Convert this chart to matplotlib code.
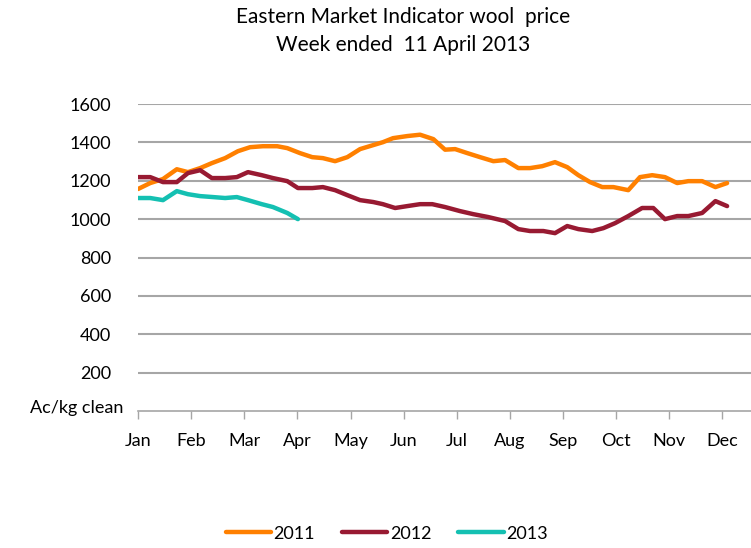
import matplotlib
import matplotlib.pyplot as plt

matplotlib.use("agg")

# x positions are in months since 1 Jan (0 = Jan, 1 = Feb, ...)
months = ["Jan", "Feb", "Mar", "Apr", "May", "Jun",
          "Jul", "Aug", "Sep", "Oct", "Nov", "Dec"]
y_ticks = [200, 400, 600, 800, 1000, 1200, 1400, 1600]

x_2011 = [0.00, 0.23, 0.47, 0.73, 0.94, 1.17, 1.39, 1.64, 1.88, 2.11, 2.35, 2.62,
          2.81, 3.05, 3.28, 3.48, 3.71, 3.94, 4.18, 4.43, 4.61, 4.80, 5.07, 5.31,
          5.56, 5.78, 5.97, 6.20, 6.44, 6.69, 6.91, 7.16, 7.38, 7.61, 7.85, 8.08,
          8.29, 8.51, 8.74, 8.95, 9.23, 9.45, 9.68, 9.92, 10.15, 10.36, 10.62,
          10.87, 11.09]
v_2011 = [1157, 1188, 1209, 1260, 1245, 1266, 1292, 1318, 1354, 1375, 1380, 1380,
          1370, 1344, 1323, 1318, 1302, 1323, 1365, 1386, 1401, 1422, 1433, 1440,
          1417, 1362, 1365, 1344, 1323, 1302, 1308, 1266, 1266, 1276, 1297, 1271,
          1229, 1193, 1167, 1167, 1151, 1219, 1229, 1219, 1188, 1198, 1198,
          1167, 1188]

x_2012 = [0.00, 0.23, 0.47, 0.73, 0.94, 1.17, 1.39, 1.64, 1.86, 2.07, 2.33, 2.54,
          2.81, 3.01, 3.28, 3.48, 3.71, 3.94, 4.18, 4.43, 4.61, 4.84, 5.07, 5.31,
          5.54, 5.78, 6.06, 6.31, 6.59, 6.91, 7.16, 7.38, 7.63, 7.85, 8.08, 8.29,
          8.55, 8.76, 8.98, 9.23, 9.49, 9.70, 9.92, 10.15, 10.36, 10.62, 10.87,
          11.09]
v_2012 = [1219, 1219, 1193, 1193, 1240, 1255, 1214, 1214, 1219, 1245, 1229, 1214,
          1198, 1162, 1162, 1167, 1151, 1125, 1099, 1089, 1078, 1058, 1068, 1078,
          1078, 1063, 1042, 1026, 1011, 990, 948, 938, 938, 927, 964, 948,
          938, 953, 979, 1016, 1058, 1058, 1000, 1016, 1016, 1032, 1094,
          1068]

x_2013 = [0.00, 0.23, 0.47, 0.73, 0.94, 1.17, 1.41, 1.64, 1.86, 2.07, 2.33, 2.54,
          2.81, 3.01]
v_2013 = [1110, 1110, 1099, 1146, 1130, 1120, 1115, 1110, 1115, 1099, 1078, 1063,
          1032, 1000]

series = [("2011", x_2011, v_2011, "#ff8000"),
          ("2012", x_2012, v_2012, "#981a32"),
          ("2013", x_2013, v_2013, "#14c0b2")]

plt.rcParams["font.family"] = ["Lato", "DejaVu Sans"]
fs = 13

fig = plt.figure(figsize=(7.51, 5.48), dpi=100)
ax = fig.add_axes([0.1838, 0.25, 0.8162, 0.5602])

for name, xs, vs, col in series:
    ax.plot(xs, vs, color=col, linewidth=3.2, label=name, solid_capstyle="round",
            solid_joinstyle="round", zorder=3)

ax.set_xlim(0, 11.54)
ax.set_ylim(0, 1600)
ax.set_xticks(range(12))
ax.set_xticklabels(months, fontsize=fs)
ax.set_yticks(y_ticks)
ax.set_yticklabels([str(v) for v in y_ticks], fontsize=fs)
ax.tick_params(axis="y", length=0, pad=19.5)
ax.tick_params(axis="x", length=6, width=1, color="#a6a6a6", pad=10, direction="out")

ax.grid(True, axis="y", color="#a6a6a6", linewidth=1.5)
for s in ["top", "right", "left"]:
    ax.spines[s].set_visible(False)
ax.spines["bottom"].set_color("#a6a6a6")
ax.spines["bottom"].set_linewidth(1.2)

fig.text(123 / 751, 1 - 408 / 548, "Ac/kg clean", ha="right", va="center",
         fontsize=fs)

fig.text(0.537, 1 - 17 / 548, "Eastern Market Indicator wool  price",
         ha="center", va="center", fontsize=15)
fig.text(0.537, 1 - 45 / 548, "Week ended  11 April 2013",
         ha="center", va="center", fontsize=15)

fig.legend(loc="lower center", bbox_to_anchor=(0.515, -0.018), ncol=3, frameon=False,
           fontsize=fs, handlelength=2.5, handletextpad=0.15, columnspacing=1.5)

fig.savefig("out.png", dpi=100)
